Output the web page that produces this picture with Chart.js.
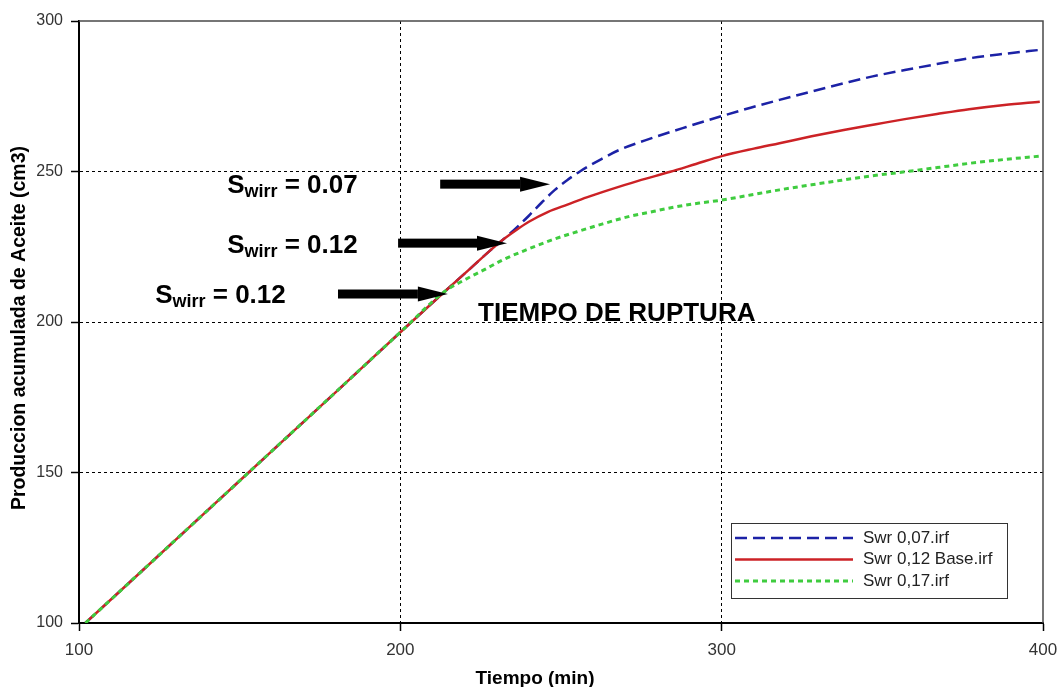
<!DOCTYPE html>
<html lang="es">
<head>
<meta charset="utf-8"/>
<title>Produccion acumulada de Aceite</title>
<script src="https://cdn.jsdelivr.net/npm/chart.js"></script>
<style>
  body { margin: 0; background: #fff; }
  canvas { display: block; }
</style>
</head>
<body>
<canvas id="oilChart" width="1062" height="687"></canvas>
<script>
// straight stretch shared by all three runs (before water breakthrough)
const timeShared = [102, 120, 140, 160, 180, 200, 214];
const oilShared = [100, 117.7, 137.4, 157.1, 176.8, 196.6, 210.3];

// Swr 0,07
const timeSwr07 = [222, 228, 232, 236, 240, 244, 248, 252, 256, 262, 268, 278, 289, 300, 309, 318, 328, 338, 347, 357, 367, 377, 388, 399];
const oilSwr07 = [218, 223.8, 227.4, 231.2, 235.3, 239.7, 243.8, 247.2, 250.1, 253.8, 257.1, 261, 264.8, 268.4, 271.2, 273.8, 276.6, 279.3, 281.6, 283.7, 285.7, 287.6, 289.1, 290.4];

// Swr 0,12 (base case)
const timeSwr12 = [222, 228, 232, 236, 240, 246, 252, 258, 265, 274, 284, 292, 300, 310, 318, 328, 338, 348, 357, 367, 377, 388, 399];
const oilSwr12 = [218, 223.8, 227.4, 230.5, 233.3, 236.6, 239.0, 241.4, 243.9, 246.9, 249.9, 252.5, 255.1, 257.6, 259.4, 261.7, 263.8, 265.7, 267.4, 269.1, 270.7, 272.1, 273.2];

// Swr 0,17
const timeSwr17 = [220, 226, 232, 239, 247, 255, 263, 271, 279, 286, 293, 300, 309, 318, 328, 338, 347, 357, 367, 377, 388, 399];
const oilSwr17 = [214, 217.3, 220.7, 223.9, 227.2, 230, 232.6, 235, 236.8, 238.3, 239.5, 240.5, 242.2, 243.9, 245.6, 247.2, 248.6, 249.9, 251.3, 252.7, 254, 255.1];

const seriesLabels = ['Swr 0,07.irf', 'Swr 0,12 Base.irf', 'Swr 0,17.irf'];
const xTicks = [100, 200, 300, 400];
const yTicks = [100, 150, 200, 250, 300];

// breakthrough notes (in data units)
const noteValues = ['0.07', '0.12', '0.12'];
const noteT = [146.1, 146.1, 123.7];
const noteV = [242.9, 222.9, 206.3];
const arrowFromT = [212.4, 199.3, 180.6];
const arrowToT = [246.6, 233.2, 214.8];
const arrowAtV = [245.8, 226.2, 209.3];
const breakText = 'TIEMPO DE RUPTURA';
const breakT = 224.2;
const breakV = 200.3;

const SANS = '"Liberation Sans", Arial, sans-serif';

function toPoints(ts, vs) {
  return ts.map((t, i) => ({ x: t, y: vs[i] }));
}

const datasets = [
  {
    label: seriesLabels[0],
    data: toPoints(timeShared.concat(timeSwr07), oilShared.concat(oilSwr07)),
    borderColor: '#1c22a6',
    borderWidth: 2.5,
    borderDash: [12, 6],
    order: 2
  },
  {
    label: seriesLabels[1],
    data: toPoints(timeShared.concat(timeSwr12), oilShared.concat(oilSwr12)),
    borderColor: '#cc2226',
    borderWidth: 2.5,
    borderDash: [],
    order: 1
  },
  {
    label: seriesLabels[2],
    data: toPoints(timeShared.concat(timeSwr17), oilShared.concat(oilSwr17)),
    borderColor: '#3fcc3f',
    borderWidth: 3,
    borderDash: [5, 4],
    order: 0
  }
];

// hide grid lines on the frame edges, keep the inner dotted ones
const innerGrid = ctx => {
  const s = ctx.scale;
  if (!ctx.tick) return 'transparent';
  return (ctx.tick.value === s.min || ctx.tick.value === s.max) ? 'transparent' : '#000';
};

const extras = {
  id: 'extras',
  afterDraw(chart) {
    const { ctx, chartArea: a, scales: { x, y } } = chart;
    ctx.save();

    // thin top/right edges of the plot box
    ctx.strokeStyle = '#4a4a4a';
    ctx.lineWidth = 1.5;
    ctx.beginPath();
    ctx.moveTo(a.left, a.top);
    ctx.lineTo(a.right, a.top);
    ctx.lineTo(a.right, a.bottom);
    ctx.stroke();

    // arrows pointing at the breakthrough points
    ctx.fillStyle = '#000';
    const head = 30;
    arrowFromT.forEach((t0, i) => {
      const x0 = x.getPixelForValue(t0);
      const x1 = x.getPixelForValue(arrowToT[i]);
      const yy = y.getPixelForValue(arrowAtV[i]);
      ctx.fillRect(x0, yy - 4.5, x1 - head - x0, 9);
      ctx.beginPath();
      ctx.moveTo(x1 - head, yy - 7.5);
      ctx.lineTo(x1, yy);
      ctx.lineTo(x1 - head, yy + 7.5);
      ctx.closePath();
      ctx.fill();
    });

    // S_wirr labels
    ctx.textAlign = 'left';
    ctx.textBaseline = 'alphabetic';
    noteValues.forEach((val, i) => {
      let px = x.getPixelForValue(noteT[i]);
      const py = y.getPixelForValue(noteV[i]);
      ctx.font = 'bold 26px ' + SANS;
      ctx.fillText('S', px, py);
      px += ctx.measureText('S').width;
      ctx.font = 'bold 18px ' + SANS;
      ctx.fillText('wirr', px, py + 4);
      px += ctx.measureText('wirr').width;
      ctx.font = 'bold 26px ' + SANS;
      ctx.fillText(' = ' + val, px, py);
    });
    ctx.font = 'bold 26px ' + SANS;
    ctx.fillText(breakText, x.getPixelForValue(breakT), y.getPixelForValue(breakV));

    // legend box
    const boxW = 276, boxH = 75;
    const bx = a.right - 36 - boxW, by = a.bottom - 25 - boxH;
    ctx.fillStyle = '#fff';
    ctx.fillRect(bx, by, boxW, boxH);
    ctx.strokeStyle = '#333';
    ctx.lineWidth = 1;
    ctx.strokeRect(bx + 0.5, by + 0.5, boxW, boxH);
    ctx.font = '17px ' + SANS;
    ctx.textBaseline = 'middle';
    chart.data.datasets.forEach((ds, i) => {
      const ry = by + 15 + i * 21.5;
      ctx.strokeStyle = ds.borderColor;
      ctx.lineWidth = ds.borderWidth;
      ctx.setLineDash(ds.borderDash);
      ctx.beginPath();
      ctx.moveTo(bx + 4, ry);
      ctx.lineTo(bx + 122, ry);
      ctx.stroke();
      ctx.setLineDash([]);
      ctx.fillStyle = '#222';
      ctx.fillText(ds.label, bx + 132, ry);
    });

    // axis titles
    ctx.fillStyle = '#000';
    ctx.textBaseline = 'alphabetic';
    ctx.textAlign = 'center';
    ctx.font = 'bold 19px ' + SANS;
    ctx.fillText('Tiempo (min)', chart.width / 2 + 4, 684);
    ctx.translate(25, (a.top + a.bottom) / 2 + 6);
    ctx.rotate(-Math.PI / 2);
    ctx.font = 'bold 19.5px ' + SANS;
    ctx.fillText('Produccion acumulada de Aceite (cm3)', 0, 0);

    ctx.restore();
  }
};

new Chart(document.getElementById('oilChart'), {
  type: 'line',
  data: { datasets: datasets },
  options: {
    responsive: false,
    animation: false,
    devicePixelRatio: 1,
    layout: { padding: { top: 21, right: 19, left: 0, bottom: 0 } },
    elements: {
      point: { radius: 0 },
      line: { cubicInterpolationMode: 'monotone', fill: false }
    },
    plugins: {
      legend: { display: false },
      tooltip: { enabled: false }
    },
    scales: {
      x: {
        type: 'linear',
        min: xTicks[0],
        max: xTicks[xTicks.length - 1],
        afterBuildTicks: s => { s.ticks = xTicks.map(v => ({ value: v })); },
        afterFit: s => { s.height = 64; s.paddingLeft = 0; s.paddingRight = 0; },
        border: { display: true, color: '#000', width: 2, dash: [3, 3] },
        grid: { color: innerGrid, lineWidth: 1, tickColor: '#000', tickLength: 8, tickWidth: 1.5, tickBorderDash: [] },
        ticks: { color: '#333', padding: 9, maxRotation: 0, font: { family: SANS, size: 17 } }
      },
      y: {
        type: 'linear',
        min: yTicks[0],
        max: yTicks[yTicks.length - 1],
        afterBuildTicks: s => { s.ticks = yTicks.map(v => ({ value: v })); },
        afterFit: s => { s.width = 79; s.paddingTop = 0; s.paddingBottom = 0; },
        border: { display: true, color: '#000', width: 2, dash: [3, 3] },
        grid: { color: innerGrid, lineWidth: 1, tickColor: '#000', tickLength: 8, tickWidth: 1.5, tickBorderDash: [] },
        ticks: { color: '#333', padding: 8, font: { family: SANS, size: 16 } }
      }
    }
  },
  plugins: [extras]
});
</script>
</body>
</html>
